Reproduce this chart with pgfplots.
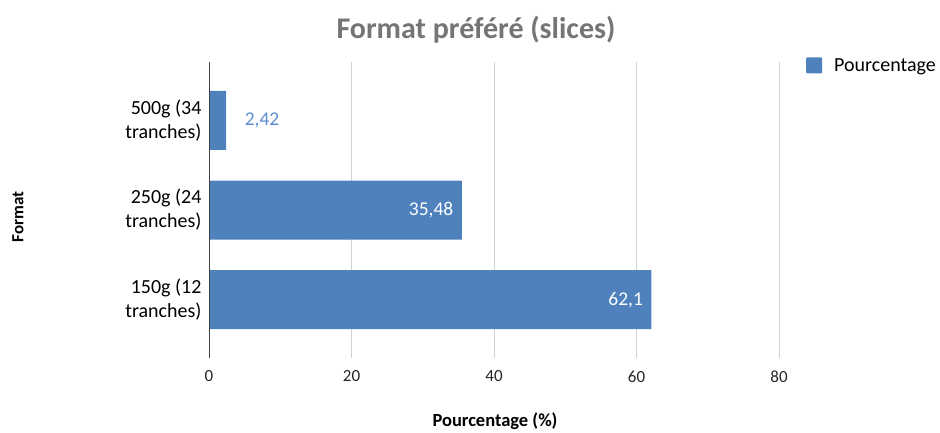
\documentclass[border=0pt]{standalone}
\usepackage{pgfplots}
\pgfplotsset{compat=1.18}
\usepackage{fontspec}
\setmainfont{Carlito}

\definecolor{barblue}{HTML}{4F81BD}
\definecolor{lblblue}{RGB}{92,140,208}
\definecolor{titlegrey}{HTML}{757575}
\definecolor{gridgrey}{HTML}{D0D0D0}

\begin{document}
\begin{tikzpicture}[x=1pt,y=1pt]
\useasboundingbox (0,0) rectangle (940,432);
\begin{axis}[
  at={(209pt,74pt)}, anchor=south west,
  scale only axis, width=570pt, height=296pt,
  xbar, bar width=59pt, bar shift=0pt,
  xmin=0, xmax=80, ymin=-0.65, ymax=2.65,
  xtick={0,20,40,60,80},
  ytick={0,1,2},
  yticklabels={{150g (12\\tranches)},{250g (24\\tranches)},{500g (34\\tranches)}},
  yticklabel style={align=right, font=\fontsize{20}{24}\selectfont, text=black, xshift=-4pt},
  xticklabel style={font=\fontsize{17}{19}\selectfont, text=black!85, yshift=-9pt},
  /pgf/number format/assume math mode=true,
  /pgf/number format/use comma,
  major tick length=0pt,
  xmajorgrids, grid style={gridgrey, line width=0.8pt},
  axis line style={draw=none},
  legend style={at={(1,1)}, anchor=north west, xshift=24pt, yshift=8pt, draw=none,
    font=\fontsize{20}{22}\selectfont, legend cell align=left,
    nodes={inner xsep=12pt}},
  legend image code/.code={\fill[barblue, rounded corners=1pt] (4pt,-8pt) rectangle (20pt,8pt);},
  clip=false,
]
\addplot[fill=barblue, draw=none] coordinates {(62.1,0) (35.48,1) (2.42,2)};
\addlegendentry{Pourcentage}
% value labels inside the long bars
\addplot[only marks, mark=none, forget plot, point meta=x,
  nodes near coords, nodes near coords style={anchor=east, text=white, xshift=-5pt,
  font=\fontsize{19.5}{21}\selectfont}]
  coordinates {(62.1,0) (35.48,1)};
% value label beside the short bar
\addplot[only marks, mark=none, forget plot, point meta=x,
  nodes near coords, nodes near coords style={anchor=west, text=lblblue, xshift=15pt,
  font=\fontsize{19.5}{21}\selectfont}]
  coordinates {(2.42,2)};
\draw[black!75, line width=1pt] (axis cs:0,-0.65) -- (axis cs:0,2.65);
\end{axis}
\node[font=\bfseries\fontsize{30}{32}\selectfont, text=titlegrey] at (476,402) {Format préféré (slices)};
\node[font=\bfseries\fontsize{17}{19}\selectfont, rotate=90] at (18,215) {Format};
\node[font=\bfseries\fontsize{18.5}{20}\selectfont] at (495,11) {Pourcentage (\%)};
\end{tikzpicture}
\end{document}
